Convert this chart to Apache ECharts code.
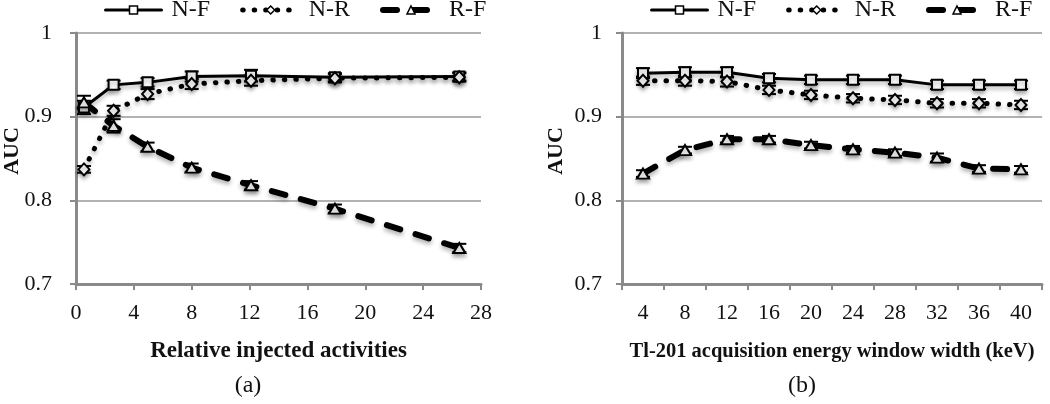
<!DOCTYPE html>
<html>
<head>
<meta charset="utf-8">
<script src="https://cdn.jsdelivr.net/npm/echarts@6/dist/echarts.min.js"></script>
<style>
  html, body { margin: 0; padding: 0; background: #fff; }
  #chart { width: 1050px; height: 404px; }
</style>
</head>
<body>
<div id="chart"></div>
<script>
// panel (a): relative injected activities
var activityX = [0.55, 2.6, 4.95, 8.0, 12.1, 17.9, 26.5];
var aNF = [0.911, 0.938, 0.941, 0.948, 0.949, 0.947, 0.948];
var aNR = [0.837, 0.907, 0.927, 0.939, 0.943, 0.946, 0.947];
var aRF = [0.917, 0.889, 0.864, 0.839, 0.818, 0.790, 0.743];
var aErrNF = [0.008, 0.005, 0.005, 0.006, 0.007, 0.005, 0.005];
var aErrNR = [0.004, 0.006, 0.006, 0.006, 0.006, 0.005, 0.005];
var aErrRF = [0.008, 0.008, 0.005, 0.005, 0.005, 0.005, 0.005];

// panel (b): Tl-201 acquisition energy window width
var windowCats = ['4', '8', '12', '16', '20', '24', '28', '32', '36', '40'];
var bNF = [0.952, 0.953, 0.953, 0.946, 0.944, 0.944, 0.944, 0.938, 0.938, 0.938];
var bNR = [0.943, 0.943, 0.942, 0.932, 0.926, 0.922, 0.920, 0.916, 0.916, 0.914];
var bRF = [0.832, 0.860, 0.873, 0.873, 0.866, 0.861, 0.857, 0.851, 0.838, 0.837];
var bErrNF = [0.006, 0.006, 0.006, 0.005, 0.005, 0.005, 0.005, 0.005, 0.005, 0.005];
var bErrNR = [0.005, 0.006, 0.006, 0.005, 0.005, 0.005, 0.005, 0.005, 0.005, 0.005];
var bErrRF = [0.004, 0.004, 0.004, 0.004, 0.004, 0.004, 0.004, 0.005, 0.004, 0.004];

var FONT = 'Liberation Serif';
var chart = echarts.init(document.getElementById('chart'));

function pairs(xs, ys) {
    return ys.map(function (y, i) { return [xs[i], y]; });
}
function errData(xs, ys, es) {
    return ys.map(function (y, i) { return [xs[i], y - es[i], y + es[i]]; });
}

function renderErr(params, api) {
    var x = api.value(0);
    var top = api.coord([x, api.value(2)]);
    var bot = api.coord([x, api.value(1)]);
    var w = 7;
    var st = { stroke: '#000', lineWidth: 2 };
    return {
        type: 'group',
        children: [
            { type: 'line', shape: { x1: top[0], y1: top[1], x2: bot[0], y2: bot[1] }, style: st },
            { type: 'line', shape: { x1: top[0] - w, y1: top[1], x2: top[0] + w, y2: top[1] }, style: st },
            { type: 'line', shape: { x1: bot[0] - w, y1: bot[1], x2: bot[0] + w, y2: bot[1] }, style: st }
        ]
    };
}

var shadow = { shadowColor: 'rgba(0,0,0,0.3)', shadowBlur: 4, shadowOffsetY: 3 };

var lineLook = {
    NF: { symbol: 'rect', size: 10, width: 3, type: 'solid' },
    NR: { symbol: 'diamond', size: [11, 12], width: 5, type: [0.5, 11] },
    RF: { symbol: 'triangle', size: [12, 10], width: 6, type: [14, 16] }
};

function lineSeries(name, idx, data, kind) {
    var look = lineLook[kind];
    return {
        name: name,
        type: 'line',
        xAxisIndex: idx,
        yAxisIndex: idx,
        data: data,
        z: 5,
        symbol: look.symbol,
        symbolSize: look.size,
        itemStyle: Object.assign({ color: '#fff', borderColor: '#000', borderWidth: 2 }, shadow),
        lineStyle: Object.assign({ color: '#000', width: look.width, type: look.type, cap: 'round' }, shadow),
        emphasis: { disabled: true },
        animation: false
    };
}

function errSeries(idx, data) {
    return {
        type: 'custom',
        xAxisIndex: idx,
        yAxisIndex: idx,
        data: data,
        encode: { x: 0, y: [1, 2] },
        renderItem: renderErr,
        z: 4,
        silent: true,
        animation: false
    };
}

var catIdx = windowCats.map(function (c, i) { return i; });

var axisLine = { show: true, lineStyle: { color: '#8a8a8a', width: 3 } };
var axisTick = { show: true, length: 6, lineStyle: { color: '#8a8a8a', width: 2 } };
var grid = { show: true, lineStyle: { color: '#999', width: 1.5 } };

function yAxis(idx, margin) {
    return {
        type: 'value',
        gridIndex: idx,
        min: 0.7,
        max: 1,
        interval: 0.1,
        axisLine: axisLine,
        axisTick: axisTick,
        splitLine: grid,
        axisLabel: {
            color: '#111', fontFamily: FONT, fontSize: 22, margin: margin,
            formatter: function (v) { return v >= 0.999 ? '1' : v.toFixed(1); }
        }
    };
}

function legendItem(name, kind) {
    var look = lineLook[kind];
    return {
        name: name,
        itemStyle: { color: '#fff', borderColor: '#000', borderWidth: 1.5 },
        lineStyle: { color: '#000', width: look.width, type: look.type, cap: 'round' }
    };
}

function legend(left) {
    return {
        left: left,
        top: -7,
        itemWidth: 56,
        itemHeight: 10,
        itemGap: 30,
        data: [legendItem('N-F', 'NF'), legendItem('N-R', 'NR'), legendItem('R-F', 'RF')],
        textStyle: { color: '#111', fontFamily: FONT, fontSize: 24, padding: [0, 0, 0, 5] },
        selectedMode: false
    };
}

chart.setOption({
    backgroundColor: '#fff',
    animation: false,
    legend: [legend(99), legend(645)],
    grid: [
        { left: 76, right: 569, top: 33, bottom: 120 },
        { left: 622, right: 8, top: 33, bottom: 120 }
    ],
    xAxis: [
        {
            type: 'value',
            gridIndex: 0,
            min: 0,
            max: 28,
            interval: 4,
            axisLine: axisLine,
            axisTick: axisTick,
            splitLine: { show: false },
            axisLabel: { color: '#111', fontFamily: FONT, fontSize: 22, margin: 18 },
            name: 'Relative injected activities',
            nameLocation: 'middle',
            nameGap: 56,
            nameTextStyle: { color: '#111', fontFamily: FONT, fontSize: 23, fontWeight: 'bold' }
        },
        {
            type: 'category',
            gridIndex: 1,
            data: windowCats,
            boundaryGap: true,
            axisLine: axisLine,
            axisTick: axisTick,
            splitLine: { show: false },
            axisLabel: { color: '#111', fontFamily: FONT, fontSize: 22, margin: 18, interval: 0 },
            name: 'Tl-201 acquisition energy window width (keV)',
            nameLocation: 'middle',
            nameGap: 57,
            nameTextStyle: { color: '#111', fontFamily: FONT, fontSize: 20.5, fontWeight: 'bold' }
        }
    ],
    yAxis: [yAxis(0, 24), yAxis(1, 20)],
    graphic: [
        { type: 'text', x: 12, y: 151, rotation: Math.PI / 2,
          style: { text: 'AUC', font: 'bold 22px "Liberation Serif"', fill: '#111', align: 'center', verticalAlign: 'middle' } },
        { type: 'text', x: 556, y: 151, rotation: Math.PI / 2,
          style: { text: 'AUC', font: 'bold 22px "Liberation Serif"', fill: '#111', align: 'center', verticalAlign: 'middle' } },
        { type: 'text', x: 248, y: 386,
          style: { text: '(a)', font: '24px "Liberation Serif"', fill: '#111', align: 'center', verticalAlign: 'middle' } },
        { type: 'text', x: 802, y: 386,
          style: { text: '(b)', font: '24px "Liberation Serif"', fill: '#111', align: 'center', verticalAlign: 'middle' } }
    ],
    series: [
        errSeries(0, errData(activityX, aNF, aErrNF)),
        errSeries(0, errData(activityX, aNR, aErrNR)),
        errSeries(0, errData(activityX, aRF, aErrRF)),
        lineSeries('N-F', 0, pairs(activityX, aNF), 'NF'),
        lineSeries('N-R', 0, pairs(activityX, aNR), 'NR'),
        lineSeries('R-F', 0, pairs(activityX, aRF), 'RF'),
        errSeries(1, errData(catIdx, bNF, bErrNF)),
        errSeries(1, errData(catIdx, bNR, bErrNR)),
        errSeries(1, errData(catIdx, bRF, bErrRF)),
        lineSeries('N-F', 1, bNF, 'NF'),
        lineSeries('N-R', 1, bNR, 'NR'),
        lineSeries('R-F', 1, bRF, 'RF')
    ]
});
</script>
</body>
</html>
